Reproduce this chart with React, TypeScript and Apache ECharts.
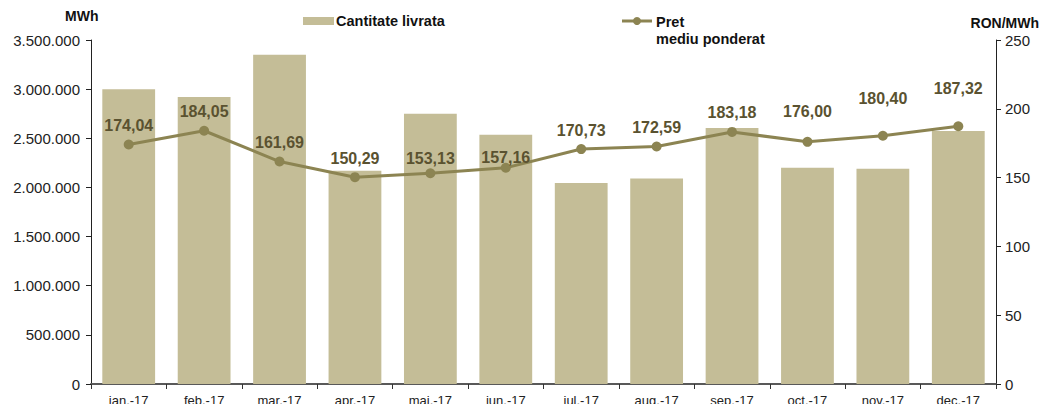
import React, { useEffect, useRef } from "react";
import * as echarts from "echarts";

const categories = ["ian.-17", "feb.-17", "mar.-17", "apr.-17", "mai.-17", "iun.-17", "iul.-17", "aug.-17", "sep.-17", "oct.-17", "nov.-17", "dec.-17"];
const quantity = [3000000, 2920000, 3350000, 2170000, 2750000, 2535000, 2045000, 2090000, 2605000, 2200000, 2190000, 2575000];
const price = [174.04, 184.05, 161.69, 150.29, 153.13, 157.16, 170.73, 172.59, 183.18, 176.0, 180.4, 187.32];
const labelShift = [0, 0, 0, 0, 4, 9, 0, 0, 0, -11, -18, -19];

const FONT = "Liberation Sans, Arial, sans-serif";
const BAR = "#c4bd97";
const LINE = "#8c8452";
const LABEL = "#5a5230";

export default function App() {
  const ref = useRef<HTMLDivElement>(null);
  useEffect(() => {
    const chart = echarts.init(ref.current!, undefined, { renderer: "svg" });
    const fmt = (v: number) => String(v).replace(/\B(?=(\d{3})+(?!\d))/g, ".");
    chart.setOption({
      animation: false,
      textStyle: { fontFamily: FONT },
      grid: { left: 91, right: 45, top: 40, bottom: 20, containLabel: false, outerBoundsMode: "none" },
      xAxis: {
        type: "category",
        data: categories,
        axisLine: { lineStyle: { color: "#595959", width: 2 } },
        axisTick: { show: true, length: 5, lineStyle: { color: "#333", width: 1 } },
        axisLabel: { color: "#222", fontSize: 13, margin: 10, fontFamily: FONT },
      },
      yAxis: [
        {
          type: "value",
          min: 0,
          max: 3500000,
          interval: 500000,
          splitLine: { show: false },
          axisLine: { show: true, lineStyle: { color: "#222", width: 1 } },
          axisTick: { show: true, length: 5, lineStyle: { color: "#222" } },
          axisLabel: { color: "#222", fontSize: 15, margin: 11, formatter: fmt, fontFamily: FONT },
        },
        {
          type: "value",
          min: 0,
          max: 250,
          interval: 50,
          position: "right",
          splitLine: { show: false },
          axisLine: { show: true, lineStyle: { color: "#222", width: 1 } },
          axisTick: { show: true, length: 5, lineStyle: { color: "#222" } },
          axisLabel: { color: "#222", fontSize: 15, margin: 9, fontFamily: FONT },
        },
      ],
      series: [
        {
          name: "Cantitate livrata",
          type: "bar",
          data: quantity,
          barCategoryGap: "30%",
          itemStyle: { color: BAR },
        },
        {
          name: "Pret mediu ponderat",
          type: "line",
          yAxisIndex: 1,
          data: price.map((v, i) => ({
            value: v,
            label: { offset: [0, labelShift[i]] },
          })),
          symbol: "circle",
          symbolSize: 10,
          lineStyle: { color: LINE, width: 3 },
          itemStyle: { color: LINE },
          label: {
            show: true,
            position: "top",
            distance: 6,
            color: LABEL,
            fontSize: 16,
            fontWeight: "bold",
            fontFamily: FONT,
            formatter: (p: any) => p.value.toFixed(2).replace(".", ","),
          },
        },
      ],
      graphic: [
        { type: "text", left: 65, top: 9, style: { text: "MWh", fontSize: 14, fontWeight: "bold", fill: "#111", fontFamily: FONT } },
        { type: "text", right: 2, top: 16, style: { text: "RON/MWh", fontSize: 14, fontWeight: "bold", fill: "#111", fontFamily: FONT } },
        { type: "rect", shape: { x: 303, y: 17, width: 31, height: 8 }, style: { fill: BAR } },
        { type: "text", x: 336, y: 13, style: { text: "Cantitate livrata", fontSize: 14.5, fontWeight: "bold", fill: "#111", fontFamily: FONT } },
        { type: "line", shape: { x1: 622, y1: 21, x2: 652, y2: 21 }, style: { stroke: LINE, lineWidth: 3 } },
        { type: "circle", shape: { cx: 637, cy: 21, r: 4 }, style: { fill: LINE } },
        { type: "text", x: 656, y: 13, style: { text: "Pret\nmediu ponderat", fontSize: 14.5, fontWeight: "bold", fill: "#111", lineHeight: 17, fontFamily: FONT } },
      ],
    });
    return () => chart.dispose();
  }, []);
  return <div ref={ref} style={{ width: 1041, height: 404, position: "absolute", left: 0, top: 0 }} />;
}
